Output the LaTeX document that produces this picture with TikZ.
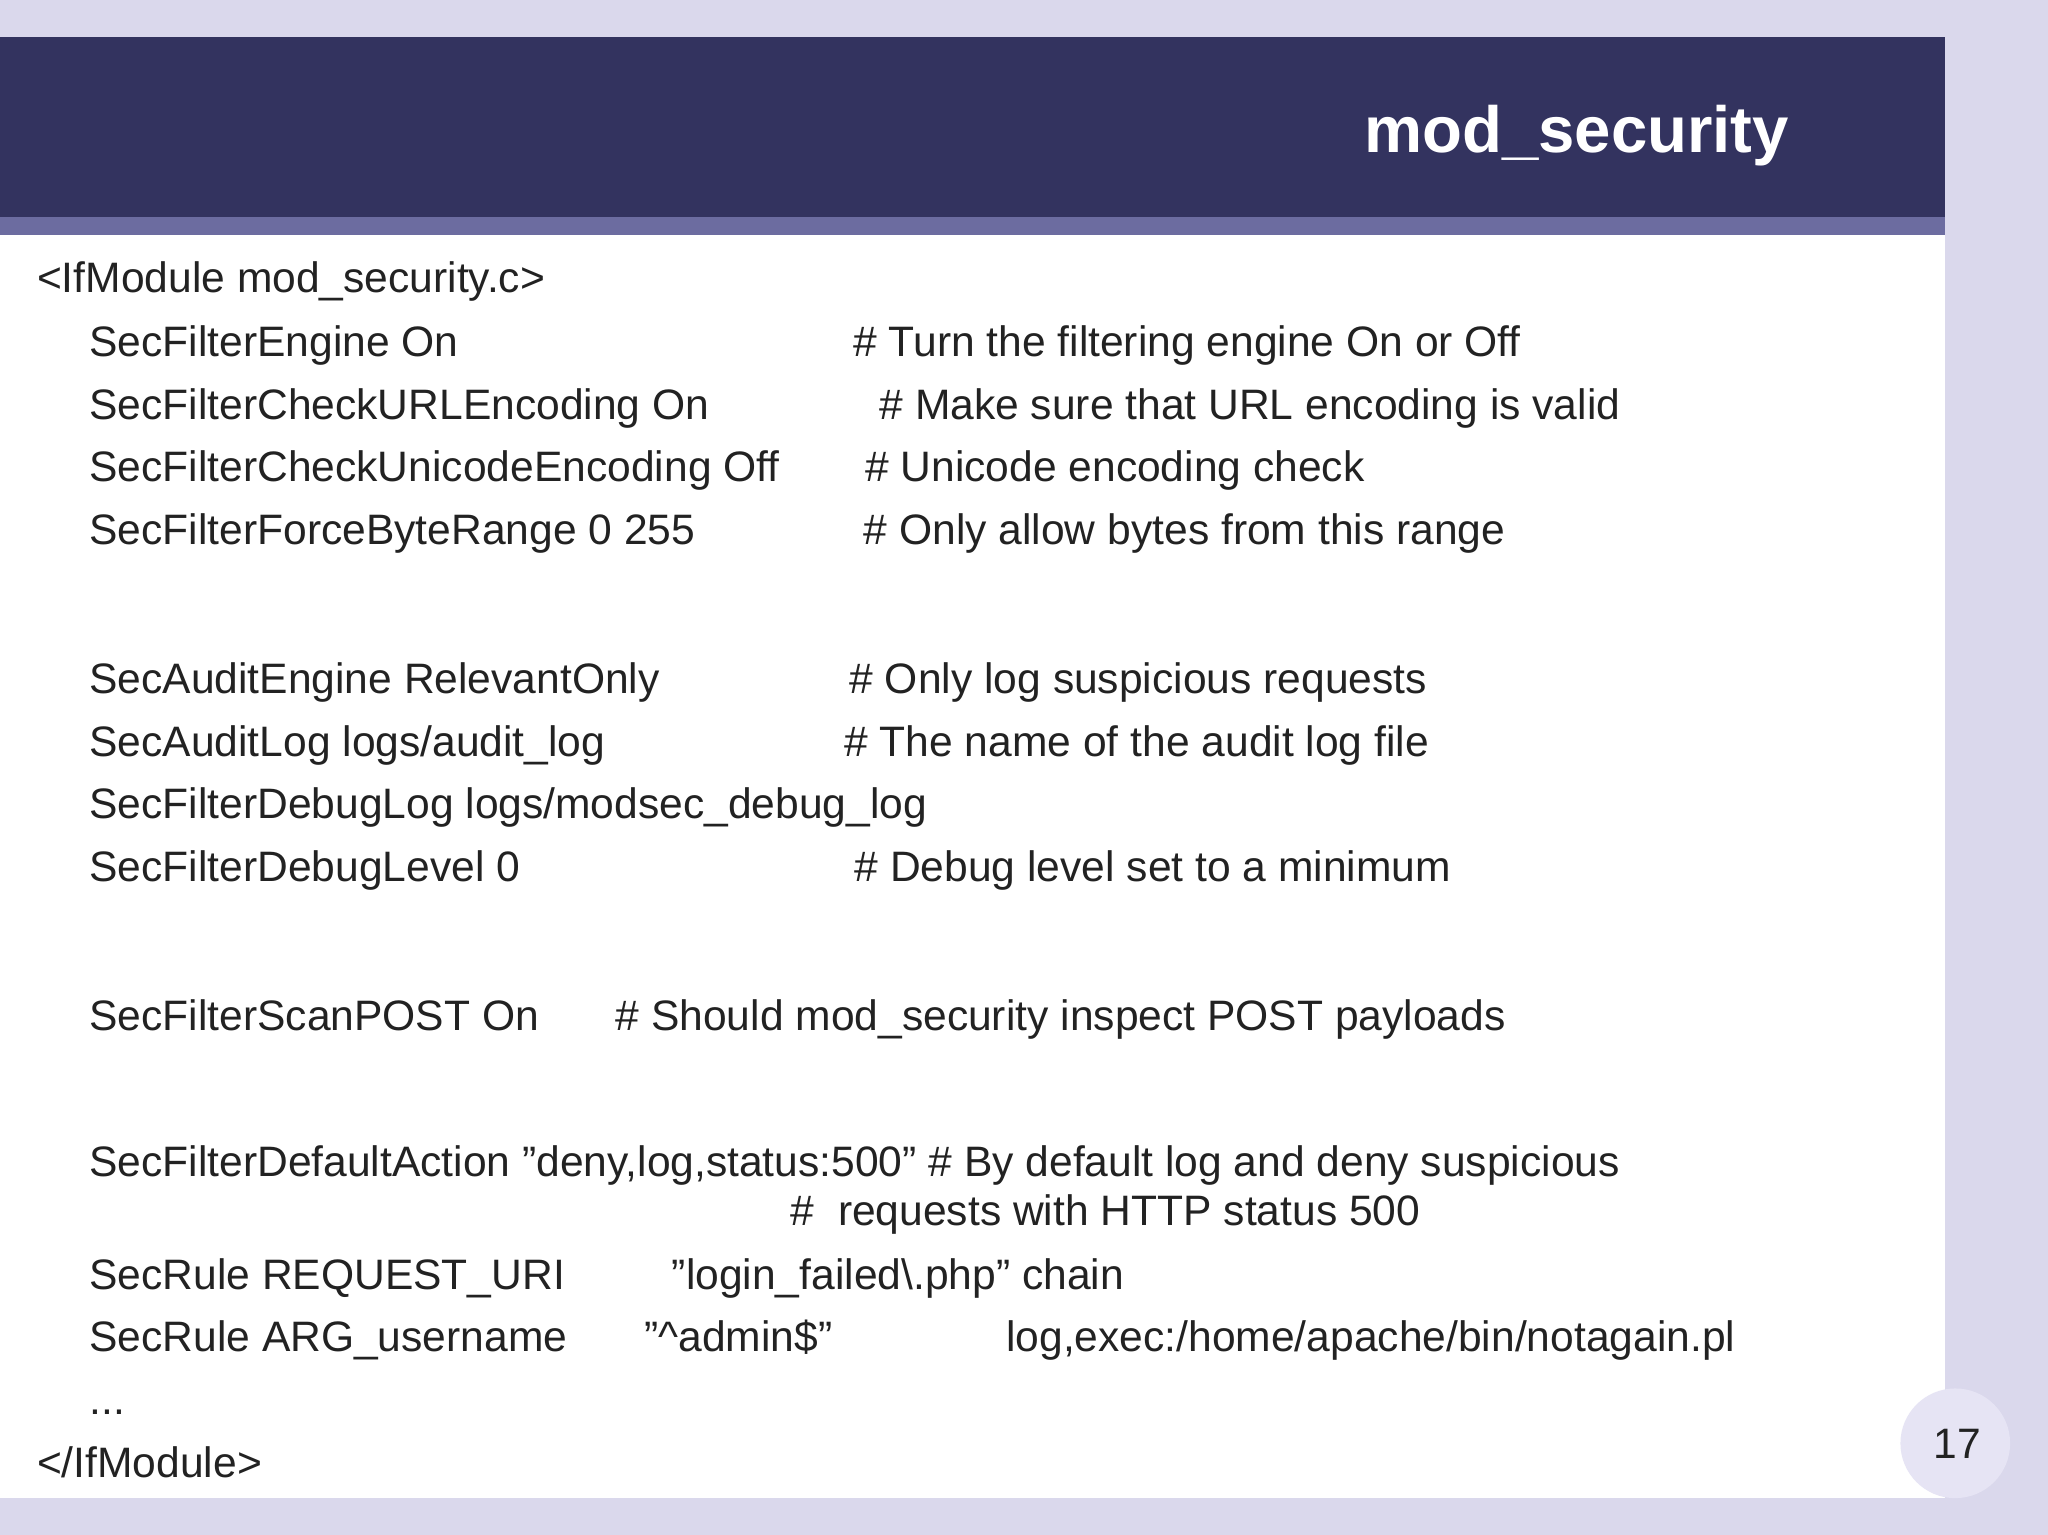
\documentclass[tikz,border=0pt]{standalone}
\usepackage{fontspec}
\setmainfont{Liberation Sans}
\definecolor{bg}{HTML}{DAD8EC}
\definecolor{band}{HTML}{33335F}
\definecolor{strip}{HTML}{6C6CA0}
\definecolor{txt}{HTML}{222222}
\definecolor{circ}{HTML}{E6E4F4}
\begin{document}
\begin{tikzpicture}[x=0.5pt,y=-0.5pt,
  code/.style={anchor=base west,inner sep=0,font=\fontsize{16.3}{19}\selectfont,text=txt}]
\useasboundingbox (0,0) rectangle (1568,1175);
\fill[bg] (0,0) rectangle (1568,1175);
\fill[white] (0,180) rectangle (1489,1147);
\fill[band] (0,28) rectangle (1489,166);
\fill[strip] (0,166) rectangle (1489,180);
\node[anchor=base east,inner sep=0,text=white,font=\fontsize{25}{30}\bfseries] (title) at (1370,117) {mod\_security};
\node[circle,fill=circ,minimum size=84pt*0.5,inner sep=0] (pg) at (1497,1105) {};
\node[code] (pgn) at (1480,1117) {17};
\node[code] (l0) at (28,224) {<IfModule mod\_security.c>};
\node[code] (l1) at (68,273) {SecFilterEngine On};
\node[code] (c1) at (653,273) {\# Turn the filtering engine On or Off};
\node[code] (l2) at (68,321) {SecFilterCheckURLEncoding On};
\node[code] (c2) at (673,321) {\# Make sure that URL encoding is valid};
\node[code] (l3) at (68,369) {SecFilterCheckUnicodeEncoding Off};
\node[code] (c3) at (662,369) {\# Unicode encoding check};
\node[code] (l4) at (68,417) {SecFilterForceByteRange 0 255};
\node[code] (c4) at (661,417) {\# Only allow bytes from this range};
\node[code] (l5) at (68,531) {SecAuditEngine RelevantOnly};
\node[code] (c5) at (650,531) {\# Only log suspicious requests};
\node[code] (l6) at (68,579) {SecAuditLog logs/audit\_log};
\node[code] (c6) at (646,579) {\# The name of the audit log file};
\node[code] (l7) at (68,627) {SecFilterDebugLog logs/modsec\_debug\_log};
\node[code] (l8) at (68,675) {SecFilterDebugLevel 0};
\node[code] (c8) at (654,675) {\# Debug level set to a minimum};
\node[code] (l9) at (68,789) {SecFilterScanPOST On};
\node[code] (c9) at (471,789) {\# Should mod\_security inspect POST payloads};
\node[code] (l10) at (68,901) {SecFilterDefaultAction "deny,log,status:500" \# By default log and deny suspicious};
\node[code] (c10) at (605,938) {\#\ \ requests with HTTP status 500};
\node[code] (l11) at (68,987) {SecRule REQUEST\_URI};
\node[code] (m11) at (514,987) {"login\_failed\textbackslash.php" chain};
\node[code] (l12) at (68,1035) {SecRule ARG\_username};
\node[code] (m12) at (493,1035) {"\textasciicircum admin\$"};
\node[code] (r12) at (770,1035) {log,exec:/home/apache/bin/notagain.pl};
\node[code] (l13) at (68,1083) {...};
\node[code] (l14) at (28,1131) {</IfModule>};
\end{tikzpicture}
\end{document}
